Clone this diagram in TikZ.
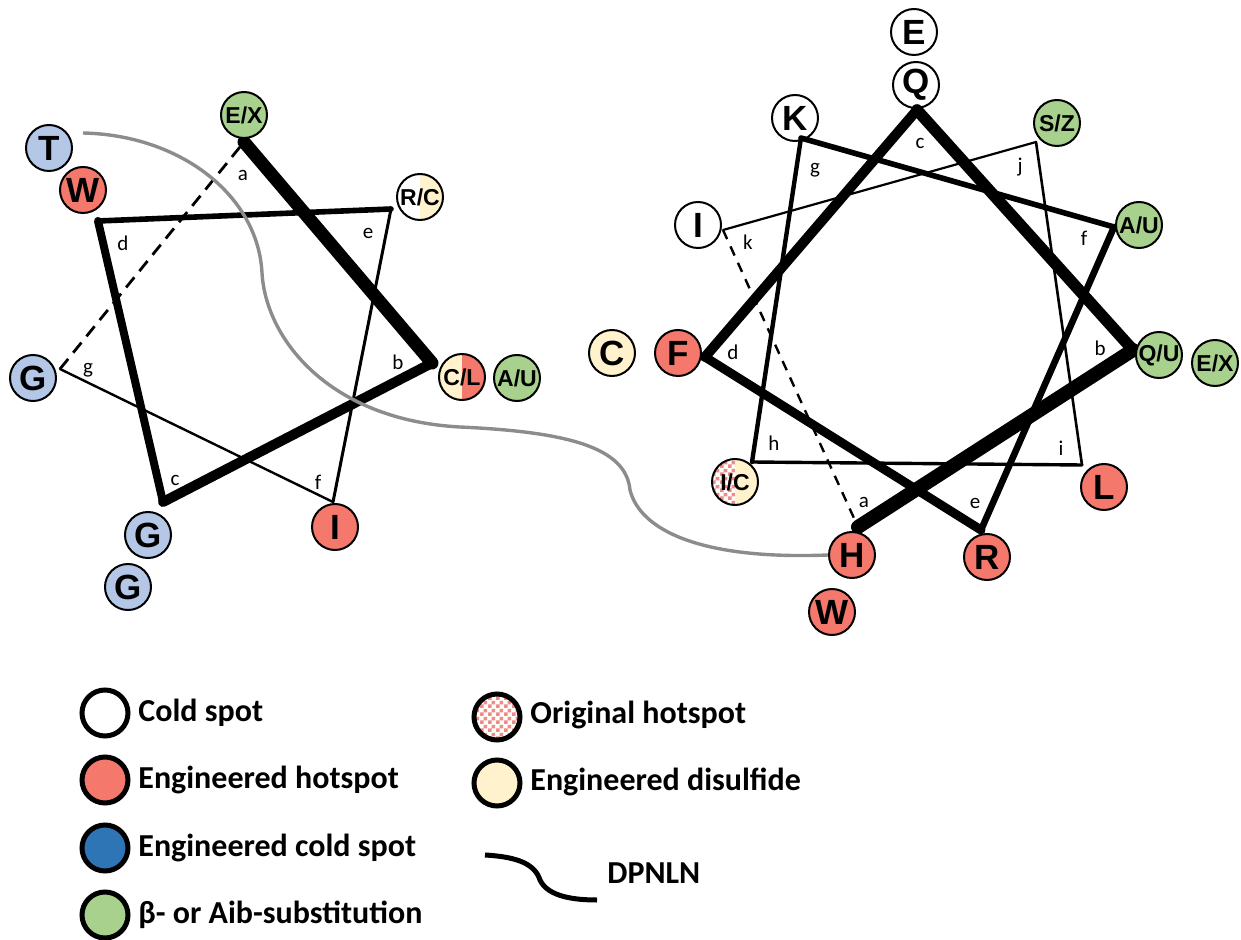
\documentclass[tikz,border=0pt]{standalone}
\usepackage{fontspec}
\setsansfont{Liberation Sans}
\newfontfamily\calfont{Carlito}
\usetikzlibrary{patterns}

\definecolor{hotred}{HTML}{F4786C}
\definecolor{betagreen}{HTML}{A9D18E}
\definecolor{paleblue}{HTML}{B4C7E7}
\definecolor{cream}{HTML}{FFF2CC}
\definecolor{coldblue}{HTML}{2E75B6}
\definecolor{linkgray}{HTML}{8C8C8C}
\definecolor{checkred}{HTML}{EE8C84}

% small checker for the original hotspot
\pgfdeclarepatternformonly{finechecker}{\pgfpointorigin}{\pgfqpoint{4pt}{4pt}}{\pgfqpoint{4pt}{4pt}}{%
  \pgfpathrectangle{\pgfpointorigin}{\pgfqpoint{2pt}{2pt}}%
  \pgfpathrectangle{\pgfqpoint{2pt}{2pt}}{\pgfqpoint{2pt}{2pt}}%
  \pgfusepath{fill}}

\begin{document}
\begin{tikzpicture}[x=0.5pt, y=-0.5pt,
  res/.style={circle, draw, line width=1pt, minimum size=23pt, inner sep=0pt,
    font=\sffamily\bfseries\fontsize{17.5}{17.5}\selectfont},
  res2/.style={res, font=\sffamily\bfseries\fontsize{11.5}{11.5}\selectfont},
  hot/.style={fill=hotred},
  beta/.style={fill=betagreen},
  blu/.style={fill=paleblue},
  ss/.style={fill=cream},
  halves/.style 2 args={fill=white, path picture={
    \fill[#1] (path picture bounding box.south west) rectangle (path picture bounding box.north);
    \fill[#2] (path picture bounding box.south) rectangle (path picture bounding box.north east);}},
  wlbl/.style={inner sep=0pt, font=\calfont\fontsize{10.5}{10.5}\selectfont},
  legdot/.style={circle, draw, line width=2.5pt, minimum size=23pt, inner sep=0pt},
  legtxt/.style={anchor=base west, inner sep=0pt, font=\calfont\bfseries\fontsize{16}{16}\selectfont}]
\useasboundingbox (0,0) rectangle (1241,940);

% left wheel: vertices and position letters
\foreach \n/\x/\y in {a/244/142, b/432/363, c/163/502, d/98/221, e/391/209, f/333/502, g/60/369}
  \coordinate (L\n) at (\x,\y);
\foreach \n/\x/\y in {a/243/175, b/398/362, c/175/480, d/123/243, e/368/233, f/318/482, g/88/370}
  \node[wlbl] (L\n lbl) at (\x,\y) {\n};
\foreach \p/\q/\w in {a/b/6.5pt, b/c/5pt, c/d/4pt, d/e/2.8pt, e/f/1.5pt, f/g/1.2pt}
  \draw[line width=\w, line cap=round] (L\p) -- (L\q);
\draw[line width=1.4pt, dash pattern=on 6.5pt off 4pt] (Lg) -- (La);

% right wheel
\foreach \n/\x/\y in {a/858/527, b/1133/350, c/917/110, d/705/357, e/981/530, f/1114/227,
    g/801/138, h/752/462, i/1082/465, j/1036/142, k/723/230}
  \coordinate (R\n) at (\x,\y);
\foreach \n/\x/\y in {a/864/502, b/1100/348, c/920/143, d/733/352, e/975/503, f/1084/238,
    g/815/170, h/774/443, i/1061/448, j/1020/167, k/748/242}
  \node[wlbl] (R\n lbl) at (\x,\y) {\n};
\foreach \p/\q/\w in {a/b/7pt, b/c/5.8pt, c/d/5pt, d/e/4.5pt, e/f/3.3pt, f/g/2.8pt,
    g/h/2.2pt, h/i/1.7pt, i/j/1.3pt, j/k/1.1pt}
  \draw[line width=\w, line cap=round] (R\p) -- (R\q);
\draw[line width=1.2pt, dash pattern=on 5pt off 4pt] (Rk) -- (Ra);

% residues, left
\node[res2, beta] (lEX) at (244,115) {E/X};
\node[res, blu] (lT) at (49,148) {T};
\node[res, hot] (lW) at (83,190) {W};
\node[res2, halves={white}{cream}] (lRC) at (420,197) {R/C};
\node[res2, halves={cream}{hotred}] (lCL) at (462,377) {C/L};
\node[res2, beta] (lAU) at (517,378) {A/U};
\node[res, blu] (lG1) at (33,378) {G};
\node[res, blu] (lG2) at (148,535) {G};
\node[res, blu] (lG3) at (128,587) {G};
\node[res, hot] (lI) at (335,527) {I};

% residues, right
\node[res] (rE) at (914,32) {E};
\node[res] (rQ) at (916,85) {Q};
\node[res] (rK) at (795,118) {K};
\node[res2, beta] (rSZ) at (1057,123) {S/Z};
\node[res] (rI) at (698,225) {I};
\node[res2, beta] (rAU) at (1139,225) {A/U};
\node[res, ss] (rC) at (612,353) {C};
\node[res, hot] (rF) at (678,353) {F};
\node[res2, beta] (rQU) at (1159,355) {Q/U};
\node[res2, beta] (rEX) at (1215,363) {E/X};
\node[res2, halves={pattern=finechecker, pattern color=checkred}{cream}] (rIC) at (735,482) {I/C};
\node[res, hot] (rL) at (1104,487) {L};
\node[res, hot] (rH) at (852,555) {H};
\node[res, hot] (rR) at (987,557) {R};
\node[res, hot] (rW) at (832,612) {W};

% DPNLN linker
\coordinate (dpStart) at (83,133);
\draw[linkgray, line width=1.7pt] (dpStart)
  .. controls (180,135) and (258,195) .. (262,273)
  .. controls (266,340) and (330,420) .. (460,427)
  .. controls (570,432) and (626,448) .. (630,490)
  .. controls (640,530) and (700,560) .. (rH.west);

% legend
\node[legdot, fill=white] (kCold) at (105,713) {};
\node[legtxt] (tCold) at (138,721) {Cold spot};
\node[legdot, fill=hotred] (kHot) at (105,780) {};
\node[legtxt] (tHot) at (138,788) {Engineered hotspot};
\node[legdot, fill=coldblue] (kBlue) at (105,848) {};
\node[legtxt] (tBlue) at (138,856) {Engineered cold spot};
\node[legdot, fill=betagreen] (kBeta) at (105,915) {};
\node[legtxt] (tBeta) at (138,923) {β- or Aib-substitution};
\node[legdot, fill=white, path picture={\fill[pattern=finechecker, pattern color=checkred]
  (path picture bounding box.south west) rectangle (path picture bounding box.north east);}]
  (kOrig) at (497,717) {};
\node[legtxt] (tOrig) at (530,723) {Original hotspot};
\node[legdot, fill=cream] (kSS) at (497,783) {};
\node[legtxt] (tSS) at (530,790) {Engineered disulfide};
\coordinate (dpA) at (485,855);
\coordinate (dpB) at (597,900);
\draw[line width=2.5pt] (dpA) .. controls (520,857) and (535,865) .. (540,880)
  .. controls (548,897) and (575,900) .. (dpB);
\node[legtxt] (tDP) at (607,883) {DPNLN};
\end{tikzpicture}
\end{document}
